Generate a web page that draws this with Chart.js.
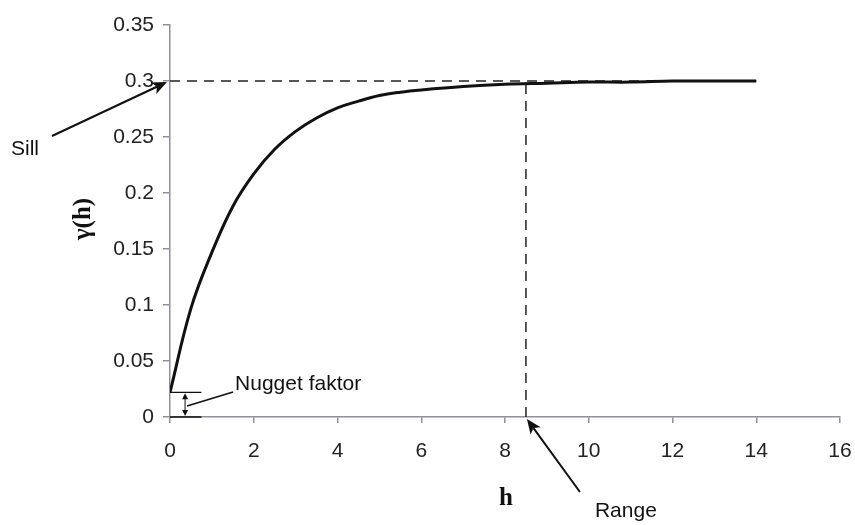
<!DOCTYPE html>
<html>
<head>
<meta charset="utf-8">
<script src="https://cdn.jsdelivr.net/npm/chart.js@4/dist/chart.umd.min.js"></script>
<style>
  html, body { margin: 0; padding: 0; background: #fff; }
  #wrap { width: 855px; height: 525px; }
</style>
</head>
<body>
<div id="wrap"><canvas id="myChart" width="855" height="525"></canvas></div>
<script>
// semivariogram values, lag h vs gamma(h)
const lagH = [0, 0.5, 1, 1.5, 2, 2.5, 3, 3.5, 4, 4.5, 5, 5.5, 6, 7, 8, 9, 10, 11, 12, 13, 14];
const gammaH = [0.022, 0.097, 0.147, 0.188, 0.217, 0.239, 0.255, 0.267, 0.276, 0.282, 0.287, 0.290,
                0.292, 0.295, 0.297, 0.298, 0.299, 0.299, 0.3, 0.3, 0.3];
const sill = 0.3;
const range = 8.5;
const nugget = 0.022;
const xTicks = [0, 2, 4, 6, 8, 10, 12, 14, 16];
const yTicks = [0, 0.05, 0.1, 0.15, 0.2, 0.25, 0.3, 0.35];

const curve = lagH.map((h, i) => ({x: h, y: gammaH[i]}));
const sillLine = [{x: 0, y: sill}, {x: lagH[lagH.length - 1], y: sill}];
const rangeLine = [{x: range, y: 0}, {x: range, y: sill}];

const sansFont = '"Liberation Sans", Arial, sans-serif';
const serifFont = '"Liberation Serif", "Times New Roman", serif';
const axisGray = '#8e909c';

function arrow(ctx, x1, y1, x2, y2, size) {
    // line from (x1,y1) to a filled head at (x2,y2)
    const a = Math.atan2(y2 - y1, x2 - x1);
    ctx.beginPath();
    ctx.moveTo(x1, y1);
    ctx.lineTo(x2 - Math.cos(a) * size * 0.7, y2 - Math.sin(a) * size * 0.7);
    ctx.stroke();
    ctx.beginPath();
    ctx.moveTo(x2, y2);
    ctx.lineTo(x2 - size * Math.cos(a - 0.4), y2 - size * Math.sin(a - 0.4));
    ctx.lineTo(x2 - size * 0.7 * Math.cos(a), y2 - size * 0.7 * Math.sin(a));
    ctx.lineTo(x2 - size * Math.cos(a + 0.4), y2 - size * Math.sin(a + 0.4));
    ctx.closePath();
    ctx.fill();
}

// labels, arrows and axis titles
const notes = {
    id: 'notes',
    afterDatasetsDraw(chart) {
        const ctx = chart.ctx;
        const xs = chart.scales.x, ys = chart.scales.y;
        ctx.save();
        ctx.strokeStyle = '#111';
        ctx.fillStyle = '#111';
        ctx.lineWidth = 2;

        // sill
        const sx = xs.getPixelForValue(0), sy = ys.getPixelForValue(sill);
        arrow(ctx, sx - 118, sy + 55, sx - 3, sy + 1, 16);
        ctx.font = '21px ' + sansFont;
        ctx.textAlign = 'left';
        ctx.textBaseline = 'alphabetic';
        ctx.fillText('Sill', 11, sy + 74);

        // range
        const rx = xs.getPixelForValue(range), ry = ys.getPixelForValue(0);
        arrow(ctx, rx + 54, ry + 75, rx + 1, ry + 2, 16);
        ctx.fillText('Range', rx + 69, ry + 100);

        // nugget bracket
        const n0 = ys.getPixelForValue(0), n1 = ys.getPixelForValue(nugget);
        const bx0 = xs.getPixelForValue(0), bx1 = xs.getPixelForValue(0.75);
        const ax = xs.getPixelForValue(0.36);
        ctx.lineWidth = 1.3;
        ctx.beginPath();
        ctx.moveTo(bx0, n1); ctx.lineTo(bx1, n1);
        ctx.moveTo(bx0, n0); ctx.lineTo(bx1, n0);
        ctx.stroke();
        ctx.lineWidth = 1;
        ctx.beginPath();
        ctx.moveTo(ax, n1 + 5); ctx.lineTo(ax, n0 - 5);
        ctx.stroke();
        ctx.beginPath();
        ctx.moveTo(ax, n1 + 1); ctx.lineTo(ax - 3, n1 + 7); ctx.lineTo(ax + 3, n1 + 7); ctx.closePath();
        ctx.moveTo(ax, n0 - 1); ctx.lineTo(ax - 3, n0 - 7); ctx.lineTo(ax + 3, n0 - 7); ctx.closePath();
        ctx.fill();
        ctx.lineWidth = 1.5;
        ctx.beginPath();
        ctx.moveTo(ax + 2, n0 - 11);
        ctx.lineTo(ax + 48, n0 - 25);
        ctx.stroke();
        ctx.fillText('Nugget faktor', ax + 50, n0 - 27);

        // axis titles
        ctx.font = 'bold 25px ' + serifFont;
        ctx.textAlign = 'center';
        ctx.fillText('h', (xs.left + xs.right) / 2 + 1, 505);
        ctx.translate(90, 219);
        ctx.rotate(-Math.PI / 2);
        ctx.fillText('γ(h)', 0, 0);
        ctx.restore();
    }
};

const ctx = document.getElementById('myChart');
new Chart(ctx, {
    type: 'scatter',
    data: {
        datasets: [
            {
                data: curve,
                showLine: true,
                borderColor: '#111',
                borderWidth: 3,
                pointRadius: 0,
                tension: 0.4,
                order: 0
            },
            {
                data: sillLine,
                showLine: true,
                borderColor: '#222',
                borderWidth: 1.5,
                borderDash: [10, 7],
                pointRadius: 0,
                order: 1
            },
            {
                data: rangeLine,
                showLine: true,
                borderColor: '#222',
                borderWidth: 1.5,
                borderDash: [10, 7],
                pointRadius: 0,
                order: 1
            }
        ]
    },
    options: {
        responsive: false,
        animation: false,
        layout: { padding: { left: 0, top: 25, right: 15, bottom: 0 } },
        plugins: {
            legend: { display: false },
            tooltip: { enabled: false }
        },
        scales: {
            x: {
                type: 'linear',
                min: 0,
                max: 16,
                afterFit: s => { s.height = 108; s.paddingLeft = 0; s.paddingRight = 0; },
                afterBuildTicks: s => { s.ticks = xTicks.map(v => ({value: v})); },
                border: { color: axisGray, width: 1.5 },
                grid: { drawOnChartArea: false, color: axisGray, tickLength: 6, lineWidth: 1.5 },
                ticks: {
                    color: '#222',
                    padding: 16,
                    maxRotation: 0,
                    font: { family: sansFont, size: 21 }
                }
            },
            y: {
                min: 0,
                max: 0.35,
                afterFit: s => { s.width = 170; s.paddingTop = 0; s.paddingBottom = 0; },
                afterBuildTicks: s => { s.ticks = yTicks.map(v => ({value: v})); },
                border: { color: axisGray, width: 1.5 },
                grid: { drawOnChartArea: false, color: axisGray, tickLength: 7, lineWidth: 1.5 },
                ticks: {
                    color: '#222',
                    padding: 9,
                    font: { family: sansFont, size: 21 },
                    callback: v => String(+v.toFixed(2))
                }
            }
        }
    },
    plugins: [notes]
});
</script>
</body>
</html>
